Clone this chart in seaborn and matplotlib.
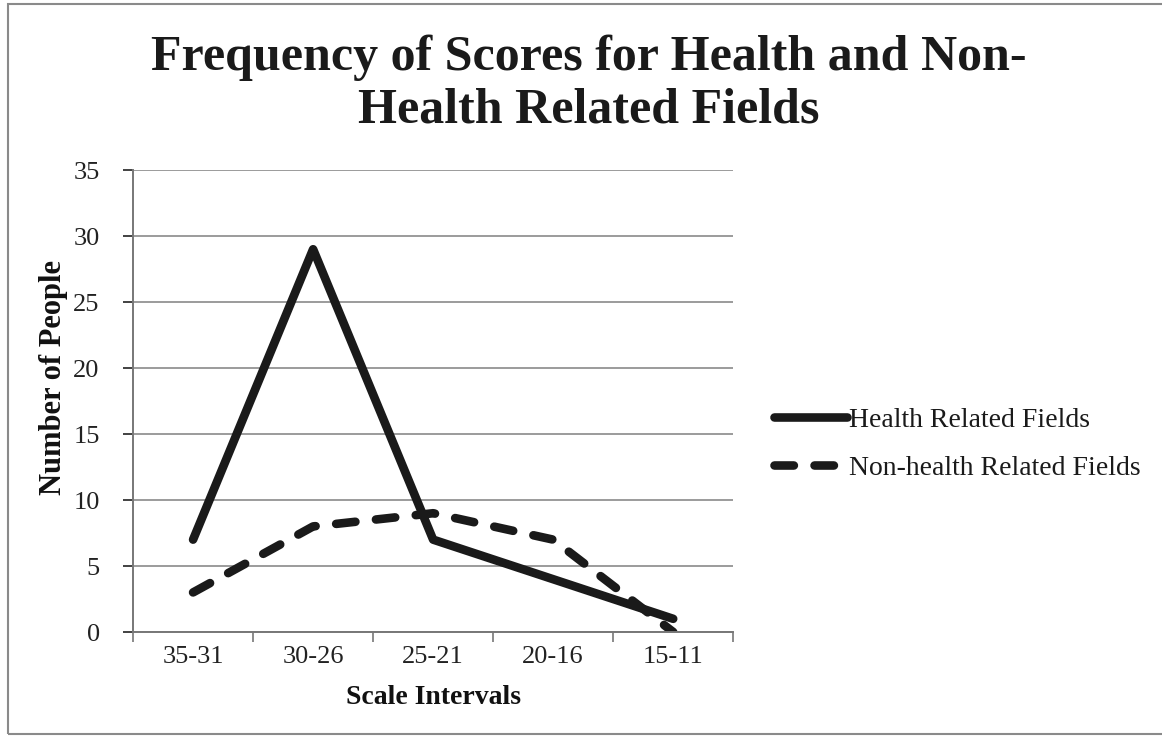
import matplotlib
matplotlib.use("Agg")
import matplotlib.pyplot as plt
import seaborn as sns
import pandas as pd
from matplotlib.patches import Rectangle
from matplotlib.lines import Line2D

intervals = ["35-31", "30-26", "25-21", "20-16", "15-11"]
health = [7, 29, 7, 4, 1]
non_health = [3, 8, 9, 7, 0]
series_names = ["Health Related Fields", "Non-health Related Fields"]

df = pd.DataFrame({
    "interval": intervals * 2,
    "people": health + non_health,
    "field": [series_names[0]] * len(intervals) + [series_names[1]] * len(intervals),
})
df["pos"] = list(range(len(intervals))) * 2

sns.set_theme(style="white")
plt.rcParams["font.family"] = ["Liberation Serif", "DejaVu Serif"]

ink = "#1a1a1a"
dash_pattern = (2.25, 2.4)

fig = plt.figure(figsize=(11.62, 7.38), dpi=100)
ax = fig.add_axes([0.1145, 0.1436, 0.5165, 0.626])

sns.lineplot(
    data=df, x="pos", y="people", hue="field", style="field",
    palette=[ink, ink],
    dashes={series_names[0]: "", series_names[1]: dash_pattern},
    linewidth=6.2, ax=ax, legend=False,
)
for line in ax.get_lines():
    line.set_solid_capstyle("round")
    line.set_dash_capstyle("round")
    line.set_solid_joinstyle("round")

ax.set_xlim(-0.5, len(intervals) - 0.5)
ax.set_ylim(0, 35)
ax.set_yticks(range(0, 36, 5))
ax.set_xticks(range(len(intervals)))
ax.set_xticklabels(intervals)
ax.set_xticks([i - 0.5 for i in range(len(intervals) + 1)], minor=True)
ax.tick_params(axis="x", which="major", length=0, labelsize=19, pad=10, colors="#222222")
ax.tick_params(axis="x", which="minor", length=7, width=1.2, color="#777777", direction="out", bottom=True)
ax.tick_params(axis="y", length=7, width=1.2, color="#777777", labelsize=19, pad=17, left=True)
ax.tick_params(axis="y", colors="#222222")
ax.grid(axis="y", color="#8a8a8a", linewidth=1.2)
for s in ["top", "right"]:
    ax.spines[s].set_visible(False)
for s in ["left", "bottom"]:
    ax.spines[s].set_color("#777777")
    ax.spines[s].set_linewidth(1.4)

ax.set_xlabel("Scale Intervals", fontsize=20, fontweight="bold", labelpad=12, color="#111111")
ax.set_ylabel("Number of People", fontsize=22, fontweight="bold", color="#111111")
ax.yaxis.set_label_coords(-0.108, 0.55)

fig.text(0.507, 0.886, "Frequency of Scores for Health and Non-\nHealth Related Fields",
         ha="center", va="center", fontsize=36, fontweight="bold", color=ink,
         linespacing=1.17)

handles = [
    Line2D([], [], color=ink, linewidth=6.2, solid_capstyle="round"),
    Line2D([], [], color=ink, linewidth=6.2, dashes=dash_pattern, dash_capstyle="round"),
]
fig.legend(handles, series_names, loc="center left", bbox_to_anchor=(0.645, 0.398),
           frameon=False, fontsize=20, handlelength=2.6, handletextpad=0.1,
           labelspacing=0.8, labelcolor=ink)

# outer frame
fig.patches.append(Rectangle((0.007, 0.006), 1.2, 0.988, transform=fig.transFigure,
                             fill=False, edgecolor="#8a8a8a", linewidth=1.5))

fig.savefig("out.png", dpi=100, facecolor="white")
